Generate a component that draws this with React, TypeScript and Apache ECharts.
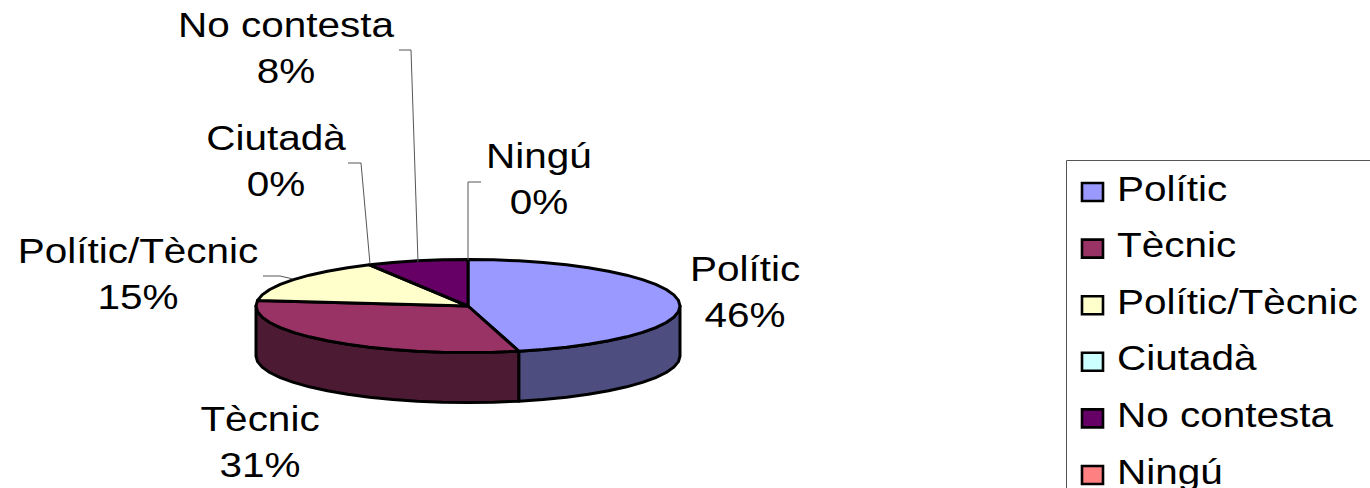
import React, { useEffect, useRef } from "react";
import * as echarts from "echarts";

const categories = ["Polític", "Tècnic", "Polític/Tècnic", "Ciutadà", "No contesta", "Ningú"];
const counts = [6, 4, 2, 0, 1, 0];

const topColors = ["#9999FF", "#993366", "#FFFFCC", "#CCFFFF", "#660066", "#FF8080"];
const sideColors = ["#4D4D80", "#4D1A33", "#808066", "#668080", "#330033", "#804040"];

// pie projection
const CX = 468, CY = 306, RX = 212, RY = 46.5, DEPTH = 50;
const FONT = "'Liberation Sans', Arial, sans-serif";
const FONT_SIZE = 36, STRETCH = 1.125, LINE_H = 46;

// label centre and leader polyline for each category
const labelCentres = [[745, 291], [260, 441], [138, 273], [276, 160], [286, 47], [539, 178]];
const leaders: number[][][] = [
  [], [],
  [[263, 276], [280, 276], [293, 279]],
  [[348, 163], [361, 163], [370, 264]],
  [[399, 50], [411, 50], [418, 262]],
  [[481, 182], [468, 182], [468, 260]],
];

const LEGEND_X = 1066, LEGEND_Y = 160, LEGEND_STEP = 56.6, SWATCH_X = 1082, SWATCH_Y = 183, LEGEND_TEXT_X = 1117, LEGEND_TEXT_Y = 188;

const total = counts.reduce((a, b) => a + b, 0);
const startOf = (i: number) => counts.slice(0, i).reduce((a, b) => a + b, 0) / total * 360;
const pct = (i: number) => Math.round((counts[i] / total) * 100);
const pt = (deg: number, dy = 0) => {
  const r = (deg * Math.PI) / 180;
  return [CX + RX * Math.sin(r), CY - RY * Math.cos(r) + dy];
};
const arc = (a: number, b: number, dy = 0) => {
  const out: number[][] = [];
  const n = Math.max(1, Math.ceil((b - a) / 7));
  for (let k = 0; k <= n; k++) out.push(pt(a + ((b - a) * k) / n, dy));
  return out;
};
const edge = { stroke: "#000", lineWidth: 3, lineJoin: "round" as const };

const sideItem = (params: any) => {
  const i = params.dataIndex;
  const a = Math.max(startOf(i), 90), b = Math.min(startOf(i + 1), 270);
  if (counts[i] === 0 || b <= a) return { type: "group", children: [] };
  const points = [...arc(a, b), ...arc(a, b, DEPTH).reverse()];
  return { type: "polygon", silent: true, shape: { points }, style: { fill: sideColors[i], ...edge } };
};
const topItem = (params: any) => {
  const i = params.dataIndex;
  if (counts[i] === 0) return { type: "group", children: [] };
  const points = [[CX, CY], ...arc(startOf(i), startOf(i + 1))];
  return { type: "polygon", silent: true, shape: { points }, style: { fill: topColors[i], ...edge } };
};
const labelItem = (params: any) => {
  const i = params.dataIndex;
  const children: any[] = [];
  if (leaders[i].length) {
    children.push({ type: "polyline", silent: true, shape: { points: leaders[i] }, style: { stroke: "#555", lineWidth: 1, fill: "none" } });
  }
  children.push({
    type: "text", silent: true, x: labelCentres[i][0], y: labelCentres[i][1], scaleX: STRETCH,
    style: { text: `${categories[i]}\n${pct(i)}%`, x: 0, y: 0, align: "center", verticalAlign: "middle", fontFamily: FONT, fontSize: FONT_SIZE, lineHeight: LINE_H, fill: "#000" },
  });
  return { type: "group", children };
};

export default function App() {
  const ref = useRef<HTMLDivElement>(null);
  useEffect(() => {
    const chart = echarts.init(ref.current!, undefined, { renderer: "svg" });
    const data = counts.map((v, i) => ({ name: categories[i], value: v }));
    const legend: any[] = [
      { type: "rect", silent: true, shape: { x: LEGEND_X + 0.5, y: LEGEND_Y + 0.5, width: 340, height: 360 }, style: { fill: "#fff", stroke: "#555", lineWidth: 1 } },
    ];
    categories.forEach((c, i) => {
      legend.push({ type: "rect", silent: true, shape: { x: SWATCH_X, y: SWATCH_Y + i * LEGEND_STEP, width: 21, height: 18 }, style: { fill: topColors[i], stroke: "#000", lineWidth: 2.6 } });
      legend.push({ type: "text", silent: true, x: LEGEND_TEXT_X, y: LEGEND_TEXT_Y + i * LEGEND_STEP, scaleX: STRETCH, style: { text: c, x: 0, y: 0, align: "left", verticalAlign: "middle", fontFamily: FONT, fontSize: FONT_SIZE, fill: "#000" } });
    });
    chart.setOption({
      animation: false,
      backgroundColor: "#fff",
      graphic: legend,
      series: [
        { type: "custom", coordinateSystem: "none", renderItem: sideItem, data, z: 1, silent: true },
        { type: "custom", coordinateSystem: "none", renderItem: topItem, data, z: 2, silent: true },
        { type: "custom", coordinateSystem: "none", renderItem: labelItem, data, z: 3, silent: true },
      ],
    });
    return () => chart.dispose();
  }, []);
  return <div ref={ref} style={{ position: "absolute", left: 0, top: 0, width: 1370, height: 488, overflow: "hidden" }} />;
}
